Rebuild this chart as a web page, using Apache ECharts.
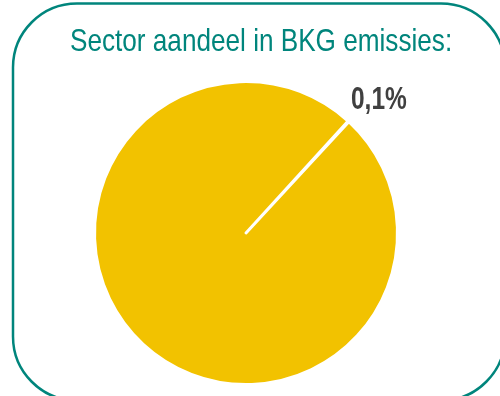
<!DOCTYPE html>
<html>
<head>
<meta charset="utf-8">
<script src="https://cdn.jsdelivr.net/npm/echarts@6/dist/echarts.min.js"></script>
<style>
  html, body { margin: 0; padding: 0; background: #ffffff; }
  #chart { width: 500px; height: 396px; }
</style>
</head>
<body>
<div id="chart"></div>
<script>
// Share of the sector in greenhouse-gas (BKG) emissions
const titleText = 'Sector aandeel in BKG emissies:';
const sliceNames = ['Sector', 'Overig'];
const sliceValues = [0.1, 99.9];
const sliceColors = ['#F2C200', '#F2C200'];

const fontFam = '"Liberation Sans", Arial, sans-serif';
const teal = '#00857C';

// narrow lettering: regular sans squeezed horizontally
const narrow = 0.817;
const shareText = sliceValues[0].toFixed(1).replace('.', ',') + '%';

const chart = echarts.init(document.getElementById('chart'), null, { renderer: 'canvas' });

const pieData = sliceNames.map((name, i) => ({
  name: name,
  value: sliceValues[i],
  itemStyle: { color: sliceColors[i] }
}));

chart.setOption({
  animation: false,
  backgroundColor: '#ffffff',
  graphic: [
    {
      type: 'rect',
      silent: true,
      shape: { x: 13, y: 3.5, width: 492, height: 397, r: 64 },
      style: { fill: 'none', stroke: teal, lineWidth: 2.5 }
    },
    {
      type: 'text',
      silent: true,
      x: 70,
      y: 26,
      scaleX: narrow,
      style: {
        text: titleText,
        font: 'normal 32px ' + fontFam,
        fill: teal,
        align: 'left',
        verticalAlign: 'top'
      }
    },
    {
      type: 'text',
      silent: true,
      x: 351,
      y: 84.5,
      scaleX: 0.79,
      style: {
        text: shareText,
        font: 'bold 31px ' + fontFam,
        fill: '#404040',
        align: 'left',
        verticalAlign: 'top'
      }
    }
  ],
  series: [{
    type: 'pie',
    center: [246, 233],
    radius: 151.5,
    startAngle: 47.6,
    clockwise: true,
    emphasis: { disabled: true },
    itemStyle: { borderColor: '#ffffff', borderWidth: 3 },
    label: { show: false },
    labelLine: { show: false },
    data: pieData
  }]
});
</script>
</body>
</html>
